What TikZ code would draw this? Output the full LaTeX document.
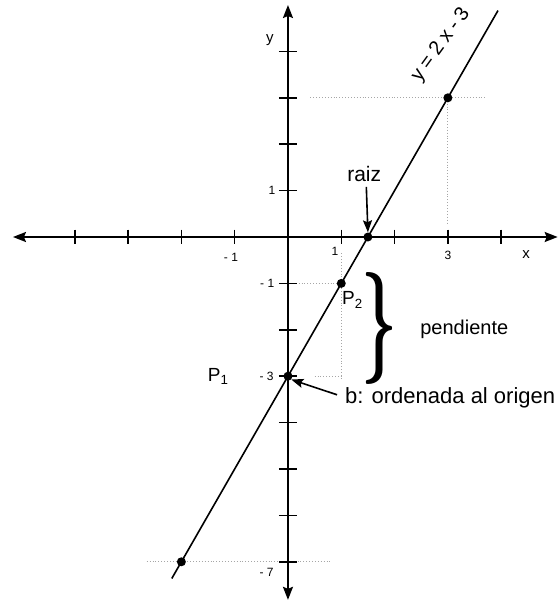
\documentclass[tikz,border=0pt]{standalone}
\usepackage{fontspec}
\setmainfont{Liberation Sans}
\usetikzlibrary{arrows.meta}
\tikzset{
  axisline/.style={line width=1.8pt,-{Stealth[length=13pt,width=10pt,inset=2pt]}},
  tickmark/.style={line width=1.5pt},
  graphline/.style={line width=1.6pt},
  guide/.style={dotted,line width=0.9pt,gray!70},
  dot/.style={circle,fill=black,inner sep=0pt,minimum size=9pt},
  ticklabel/.style={font=\fontsize{12}{12}\selectfont,inner sep=0pt},
  biglabel/.style={font=\fontsize{20}{22}\selectfont,inner sep=0pt},
  pointer/.style={line width=1.6pt,-{Stealth[length=12pt,width=9pt,inset=2pt]}}
}
\begin{document}
\begin{tikzpicture}[x=53.3pt,y=46.4pt]
\useasboundingbox (-5.403,-7.888) rectangle (5.103,5.108);
% guides
\draw[guide] (0.42,3) -- (3.7,3);
\draw[guide] (3,3) -- (3,0.3);
\draw[guide] (0.2,-1) -- (1,-1);
\draw[guide] (1,-0.35) -- (1,-3.05);
\draw[guide] (0.5,-3) -- (1,-3);
\draw[guide] (-2.65,-7) -- (0.8,-7);
% axes
\coordinate (O) at (0,0);
\coordinate (xl) at (-5.16,0);
\coordinate (xr) at (5.06,0);
\coordinate (yt) at (0,5.0);
\coordinate (yb) at (0,-7.82);
\draw[axisline] (O) -- (xr);
\draw[axisline] (O) -- (xl);
\draw[axisline] (O) -- (yt);
\draw[axisline] (O) -- (yb);
\foreach \i in {-4,-3,-2,-1,1,2,3,4}
  \draw[tickmark] (\i,0.16) -- (\i,-0.16);
\foreach \j in {-7,-6,-5,-4,-3,-2,-1,1,2,3,4}
  \draw[tickmark] (-0.17,\j) -- (0.17,\j);
% line
\coordinate (L1) at (-2.18,-7.36);
\coordinate (L2) at (3.94,4.88);
\draw[graphline] (L1) -- (L2);
% points
\node[dot] (A) at (3,3) {};
\node[dot] (R) at (1.5,0) {};
\node[dot] (P2) at (1,-1) {};
\node[dot] (P1) at (0,-3) {};
\node[dot] (B) at (-2,-7) {};
% axis labels
\node[ticklabel,font=\fontsize{15}{15}\selectfont] (ly) at (-0.34,4.25) {y};
\node[ticklabel,font=\fontsize{15}{15}\selectfont] (lx) at (4.47,-0.37) {x};
\node[ticklabel] (ty1) at (-0.30,1.0) {1};
\node[ticklabel] (tym1) at (-0.39,-1.0) {- 1};
\node[ticklabel] (tym3) at (-0.40,-3.0) {- 3};
\node[ticklabel] (tym7) at (-0.40,-7.22) {- 7};
\node[ticklabel] (txm1) at (-1.07,-0.43) {- 1};
\node[ticklabel] (tx1) at (0.88,-0.30) {1};
\node[ticklabel] (tx3) at (3.0,-0.39) {3};
% labels
\node[biglabel,font=\fontsize{21}{22}\selectfont] (raiz) at (1.43,1.36) {raiz};
\draw[pointer] (1.47,1.08) -- (R.north);
\node[biglabel,font=\fontsize{19}{20}\selectfont] (lp2) at (1.21,-1.36) {P\textsubscript{2}};
\node[biglabel,font=\fontsize{19}{20}\selectfont] (lp1) at (-1.31,-3.0) {P\textsubscript{1}};
\node[biglabel,rotate=54] (eq) at (2.87,4.14) {y\kern5pt=\kern5pt2\kern5pt x\kern5pt-\kern5pt3};
\node[inner sep=0pt] (br) at (1.71,-1.98) {\resizebox{36pt}{84pt}{\fontspec{Latin Modern Roman}\bfseries\}}};
\node[biglabel,anchor=west] (pend) at (2.48,-1.98) {pendiente};
\node[biglabel,font=\fontsize{22}{24}\selectfont,anchor=west] (bl) at (1.07,-3.47) {b: ordenada al origen};
\draw[pointer] (0.92,-3.40) -- (P1.south east);
\end{tikzpicture}
\end{document}
